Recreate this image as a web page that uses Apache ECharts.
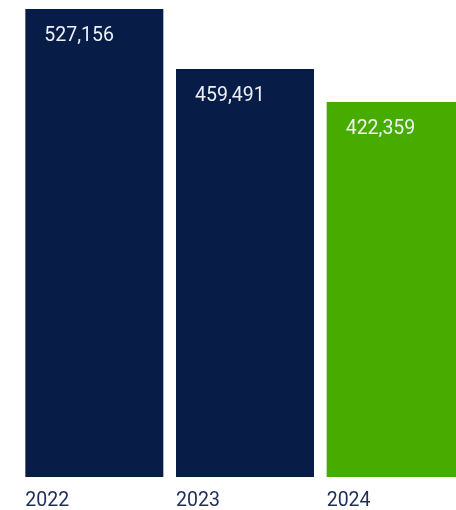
<!DOCTYPE html>
<html>
<head>
<meta charset="utf-8">
<script src="https://cdn.jsdelivr.net/npm/echarts@6/dist/echarts.min.js"></script>
<style>
  html, body { margin: 0; padding: 0; background: #ffffff; }
  #chart { width: 456px; height: 510px; }
</style>
</head>
<body>
<div id="chart"></div>
<script>
// Yearly totals
const years = ['2022', '2023', '2024'];
const totals = [527156, 459491, 422359];
const barColors = ['#071d48', '#071d48', '#48ac00'];

const chart = echarts.init(document.getElementById('chart'), null, { renderer: 'canvas' });

chart.setOption({
  animation: false,
  backgroundColor: '#ffffff',
  grid: {
    left: 19, top: 9, bottom: 33, width: 452,
    containLabel: false,
    outerBoundsMode: 'none'
  },
  xAxis: {
    type: 'category',
    data: years,
    axisLine: { show: false },
    axisTick: { show: false },
    axisLabel: {
      align: 'left',
      padding: [0, 0, 0, -69],
      margin: 14,
      color: '#1f2d57',
      fontFamily: 'Roboto',
      fontSize: 19.5
    }
  },
  yAxis: {
    type: 'value',
    min: 0,
    max: 527156,
    show: false,
    splitLine: { show: false }
  },
  series: [{
    type: 'bar',
    barWidth: 138,
    data: totals.map((v, i) => ({ value: v, itemStyle: { color: barColors[i] } })),
    label: {
      show: true,
      position: 'insideTopLeft',
      offset: [14, 12],
      color: '#eef0f5',
      fontFamily: 'Roboto',
      fontSize: 19.5,
      formatter: p => p.value.toLocaleString('en-US')
    }
  }]
});
</script>
</body>
</html>
